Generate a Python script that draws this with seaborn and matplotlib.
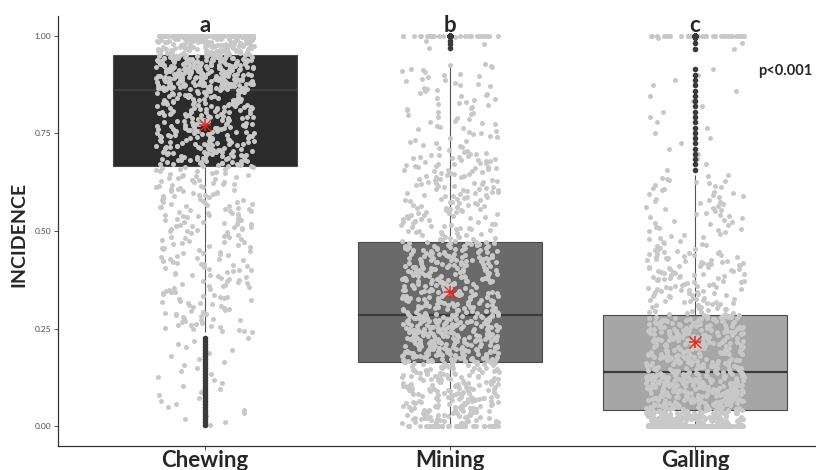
import numpy as np
import pandas as pd
import seaborn as sns
import matplotlib.pyplot as plt

# Feeding guilds and the leaf-damage incidence.
# Each group is written as value bins (low, high, number of leaves).
groups = ["Chewing", "Mining", "Galling"]
letters = ["a", "b", "c"]

chewing_lo = [0.00, 0.24, 0.50, 0.665, 0.862, 0.951, 1.00]
chewing_hi = [0.23, 0.50, 0.665, 0.862, 0.951, 1.00, 1.00]
chewing_n = [30, 120, 100, 250, 250, 150, 100]

mining_lo = [0.00, 0.005, 0.164, 0.286, 0.473, 0.70, 0.965, 1.00]
mining_hi = [0.00, 0.164, 0.286, 0.473, 0.70, 0.93, 1.00, 1.00]
mining_n = [40, 210, 250, 250, 150, 71, 4, 25]

galling_lo = [0.00, 0.00, 0.041, 0.138, 0.284, 0.45, 0.65, 0.96, 1.00]
galling_hi = [0.00, 0.041, 0.138, 0.284, 0.45, 0.644, 0.92, 1.00, 1.00]
galling_n = [100, 150, 250, 250, 125, 65, 20, 3, 37]

box_colors = ["#2b2b2b", "#6a6a6a", "#a6a6a6"]


def expand(lo, hi, n):
    # spread the leaves of each bin evenly inside it
    parts = [a + (b - a) * (np.arange(k) + 0.5) / k for a, b, k in zip(lo, hi, n)]
    return np.concatenate(parts)


bins = {
    "Chewing": (chewing_lo, chewing_hi, chewing_n),
    "Mining": (mining_lo, mining_hi, mining_n),
    "Galling": (galling_lo, galling_hi, galling_n),
}
df = pd.concat(
    [pd.DataFrame({"guild": g, "incidence": expand(*bins[g])}) for g in groups],
    ignore_index=True,
)

sns.set_style("ticks")
plt.rcParams["font.family"] = ["Lato", "DejaVu Sans"]

fig = plt.figure(figsize=(8.16, 4.70), dpi=100)
ax = fig.add_axes([58 / 816, 1 - 446 / 470, 758 / 816, 430 / 470])

sns.boxplot(
    data=df, x="guild", y="incidence", order=groups,
    hue="guild", hue_order=groups, palette=box_colors, legend=False,
    width=0.75, linecolor="#4a4a4a", linewidth=0.8, whis=1.5,
    medianprops=dict(color="#3c3c3c", linewidth=1.6),
    whiskerprops=dict(color="#555555", linewidth=0.8),
    capprops=dict(linewidth=0),
    flierprops=dict(marker="o", markerfacecolor="#3a3a3a",
                    markeredgecolor="#3a3a3a", markersize=3.0, zorder=4),
    ax=ax,
)

np.random.seed(3)
sns.stripplot(
    data=df, x="guild", y="incidence", order=groups,
    color="#c8c8c8", size=3.6, jitter=0.2, linewidth=0, zorder=3, ax=ax,
)

# group means as red asterisks
for mk, mew in (("+", 1.1), ("x", 0.9)):
    sns.pointplot(
        data=df, x="guild", y="incidence", order=groups,
        estimator="mean", errorbar=None, color="#e8251f",
        markers=mk, linestyles="none", markersize=9, markeredgewidth=mew,
        zorder=5, ax=ax,
    )

for i, lt in enumerate(letters):
    ax.text(i, 1.025, lt, ha="center", va="center", fontsize=16,
            fontweight="bold", clip_on=False)
ax.text(2.37, 0.91, "p<0.001", ha="center", va="center", fontsize=10.5,
        fontweight="bold")

ax.set_xlim(-0.6, 2.494)
ax.set_ylim(-0.05, 1.05)
ax.set_yticks([0, 0.25, 0.5, 0.75, 1.0])
ax.set_yticklabels(["0.00", "0.25", "0.50", "0.75", "1.00"])
ax.set_xlabel("")
ax.set_ylabel("INCIDENCE", fontsize=14, fontweight="bold")
ax.yaxis.set_label_coords(-0.040, 0.493)

ax.tick_params(axis="y", labelsize=6, labelcolor="#4d4d4d", color="#333333",
               length=3, width=0.6, pad=2)
ax.tick_params(axis="x", labelsize=16, color="#333333", length=3, width=0.6,
               pad=0)
for lbl in ax.get_xticklabels():
    lbl.set_fontweight("bold")

sns.despine(ax=ax)
for side in ("left", "bottom"):
    ax.spines[side].set_color("#333333")
    ax.spines[side].set_linewidth(0.9)

fig.savefig("out.png", dpi=100)
